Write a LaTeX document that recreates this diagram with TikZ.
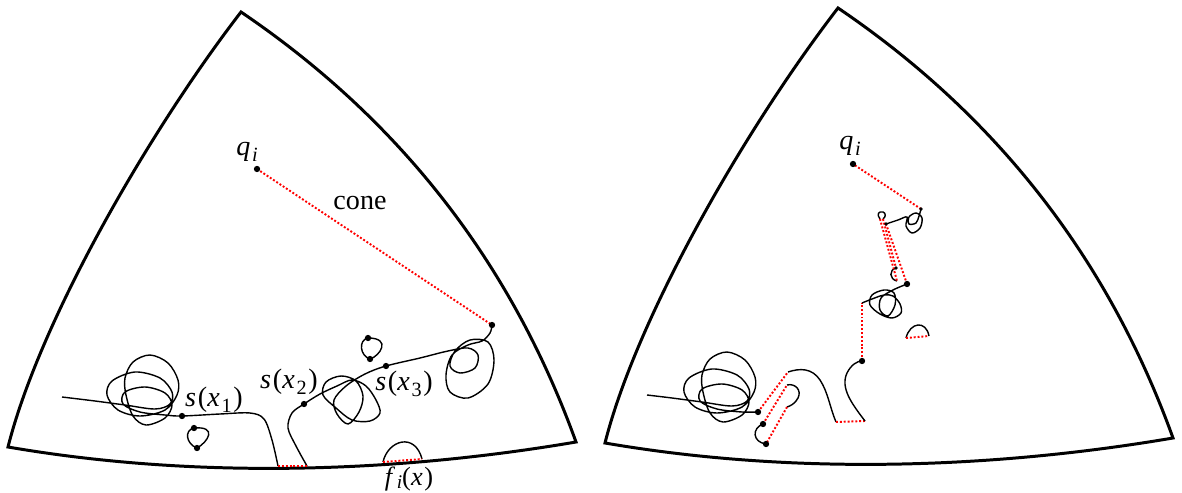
\documentclass[tikz,border=0pt]{standalone}
\usepackage{fontspec}
\setmainfont{Liberation Serif}
\newcommand{\vi}[1]{\textit{#1}\kern1pt}
\newcommand{\low}[1]{\raisebox{-3.5pt}{\fontsize{11.5}{12}\selectfont #1}}
\begin{document}
\begin{tikzpicture}[x=0.02cm, y=-0.02cm,
  bnd/.style={line width=1.7pt, line join=miter},
  curve/.style={line width=0.8pt},
  reddot/.style={red, line width=1.1pt, dash pattern=on 1.1pt off 1.1pt},
  lbl/.style={font=\fontsize{16}{19}\selectfont, inner sep=0pt}
]
\useasboundingbox (0,0) rectangle (1182,493);

% region boundaries
\draw[bnd] (241,12) .. controls (399,119) and (511,262) .. (576,442)
  .. controls (400,472) and (200,480) .. (8,447)
  .. controls (40,320) and (150,130) .. cycle;
\begin{scope}[shift={(597,-4)}]
\draw[bnd] (241,12) .. controls (399,119) and (511,262) .. (576,442)
  .. controls (400,472) and (200,480) .. (8,447)
  .. controls (40,320) and (150,130) .. cycle;
\end{scope}

% left: points
\coordinate (q) at (257,169);
\coordinate (c) at (492,325);
\coordinate (s1) at (182,416);
\coordinate (s2) at (304,404);
\coordinate (s3) at (386,366);
\coordinate (b1) at (278,466);
\coordinate (b2) at (307,466);

% left: the curve s
\draw[curve] plot[smooth, tension=0.55] coordinates {(62,397) (95,401) (125,405)
  (155,409) (170,404) (172,392) (160,378) (135,372) (112,381) (107,395) (118,410)
  (140,416) (165,410) (177,395) (178,380) (168,363) (150,355) (133,362) (125,378)
  (126,395) (133,416) (146,425) (165,418) (172,405) (165,393) (145,387) (125,392)
  (123,404) (140,412) (165,415) (182,416) (220,414) (250,413) (264,419) (272,440)
  (278,466)};
\draw[curve] plot[smooth, tension=0.55] coordinates {(307,466) (296,446) (288,428)
  (292,413) (304,404) (320,394) (337,386) (352,380) (366,386) (376,400) (380,413)
  (370,421) (352,420) (336,408) (323,395) (326,382) (341,376) (356,381) (363,396)
  (359,412) (348,424) (337,414) (334,400) (346,386) (365,374) (386,366) (420,358)
  (448,351) (468,348) (478,355) (475,368) (460,373) (450,366) (455,351) (470,340)
  (488,342) (494,360) (488,384) (468,398) (450,392) (446,375) (452,355) (468,345)
  (482,341) (490,333) (492,325)};
\draw[reddot] (b1) -- (b2);
\draw[reddot] (q) -- (c);

% left: small loops and bump
\coordinate (la) at (194,428);
\coordinate (lb) at (197,448);
\coordinate (ma) at (368,338);
\coordinate (mb) at (370,359);
\draw[curve] (la) .. controls (184,430) and (186,444) .. (lb)
  .. controls (208,442) and (218,426) .. (la);
\draw[curve] (ma) .. controls (358,340) and (360,356) .. (mb)
  .. controls (380,356) and (392,338) .. (ma);
\coordinate (fa) at (383,462);
\coordinate (fb) at (422,459);
\draw[curve] (fa) .. controls (388,440) and (415,432) .. (fb);
\draw[reddot] (fa) -- (fb);

\foreach \p in {q,c,s1,s2,s3,la,lb,ma,mb}
  \fill (\p) circle (1.8pt);

% left: labels
\node[lbl] (ql) at (247,152) {\vi{q}\low{\textit{i}}};
\node[lbl] (cl) at (360,203) {cone};
\node[lbl] (s1l) at (214,400) {\vi{s}(\vi{x}\low{1}\kern1pt)};
\node[lbl] (s2l) at (289,382) {\vi{s}(\vi{x}\low{2}\kern1pt)};
\node[lbl] (s3l) at (404,384) {\vi{s}(\vi{x}\low{3}\kern1pt)};
\node[lbl, font=\fontsize{15}{18}\selectfont] (fl) at (409,479)
  {\vi{f}\raisebox{-2pt}{\fontsize{11}{12}\selectfont\textit{i}}(\vi{x})};

% right: points
\coordinate (rq) at (853,164);
\coordinate (r1) at (758,412);
\coordinate (r2) at (788,372);
\coordinate (r3) at (836,422);
\coordinate (r4) at (865,421);
\coordinate (r5) at (862,361);
\coordinate (r6) at (862,303);
\coordinate (r7) at (907,284);
\coordinate (r8) at (886,224);
\coordinate (r9) at (921,209);

% right: the broken curve
\begin{scope}[shift={(577,-3)}]
\draw[curve] plot[smooth, tension=0.55] coordinates {(70,398) (95,401) (125,405)
  (155,409) (170,404) (172,392) (160,378) (135,372) (112,381) (107,395) (118,410)
  (140,416) (165,410) (177,395) (178,380) (168,363) (150,355) (133,362) (125,378)
  (126,395) (133,416) (146,425) (165,418) (172,405) (165,393) (145,387) (125,392)
  (123,404) (140,412) (165,415) (181,415)};
\end{scope}
\draw[reddot] (r1) -- (r2);
\draw[curve] (r2) .. controls (800,368) and (812,368) .. (820,380)
  .. controls (828,392) and (830,408) .. (r3);
\draw[reddot] (r3) -- (r4);
\draw[curve] (r4) .. controls (852,404) and (840,388) .. (847,373)
  .. controls (851,365) and (857,361) .. (r5);
\draw[reddot] (r5) -- (r6);
\draw[curve] plot[smooth, tension=0.55] coordinates {(862,303) (872,299) (884,295)
  (893,296) (900,304) (901,313) (892,318) (880,314) (870,305) (872,295) (884,290)
  (894,293) (895,305) (888,316) (880,310) (881,298) (893,290) (907,284)};
\draw[reddot] (r7) -- (r8);
\draw[curve] plot[smooth, tension=0.55] coordinates {(886,224) (898,220) (907,217)
  (906,226) (912,233) (920,228) (922,218) (916,213) (909,217) (909,224) (916,223)
  (919,216) (921,209)};
\draw[reddot] (r9) -- (rq);

% right: pieces of the small loops
\coordinate (ka) at (880,219);
\coordinate (kb) at (883,219);
\coordinate (kc) at (896,268);
\coordinate (kd) at (897,281);
\draw[curve] (ka) .. controls (876,214) and (879,211) .. (883,212)
  .. controls (886,213) and (886,217) .. (kb);
\draw[curve] (kc) .. controls (889,270) and (889,279) .. (kd);
\draw[reddot] (ka) -- (kd);
\draw[reddot] (kb) -- (kc);

\coordinate (ha) at (763,424);
\coordinate (hb) at (787,385);
\coordinate (hc) at (787,407);
\coordinate (hd) at (766,444);
\draw[reddot] (ha) -- (hb);
\draw[curve] (hb) .. controls (795,383) and (802,390) .. (798,398)
  .. controls (795,404) and (790,406) .. (hc);
\draw[reddot] (hc) -- (hd);
\draw[curve] (ha) .. controls (752,428) and (752,442) .. (hd);

\coordinate (ga) at (906,338);
\coordinate (gb) at (929,336);
\draw[curve] (ga) .. controls (910,322) and (926,320) .. (gb);
\draw[reddot] (ga) -- (gb);

\foreach \p in {rq,r1,r5,r7,ha,hd}
  \fill (\p) circle (1.8pt);
\foreach \p in {r8,r9,kc}
  \fill (\p) circle (1.1pt);

\node[lbl] (rql) at (850,146) {\vi{q}\low{\textit{i}}};
\end{tikzpicture}
\end{document}
